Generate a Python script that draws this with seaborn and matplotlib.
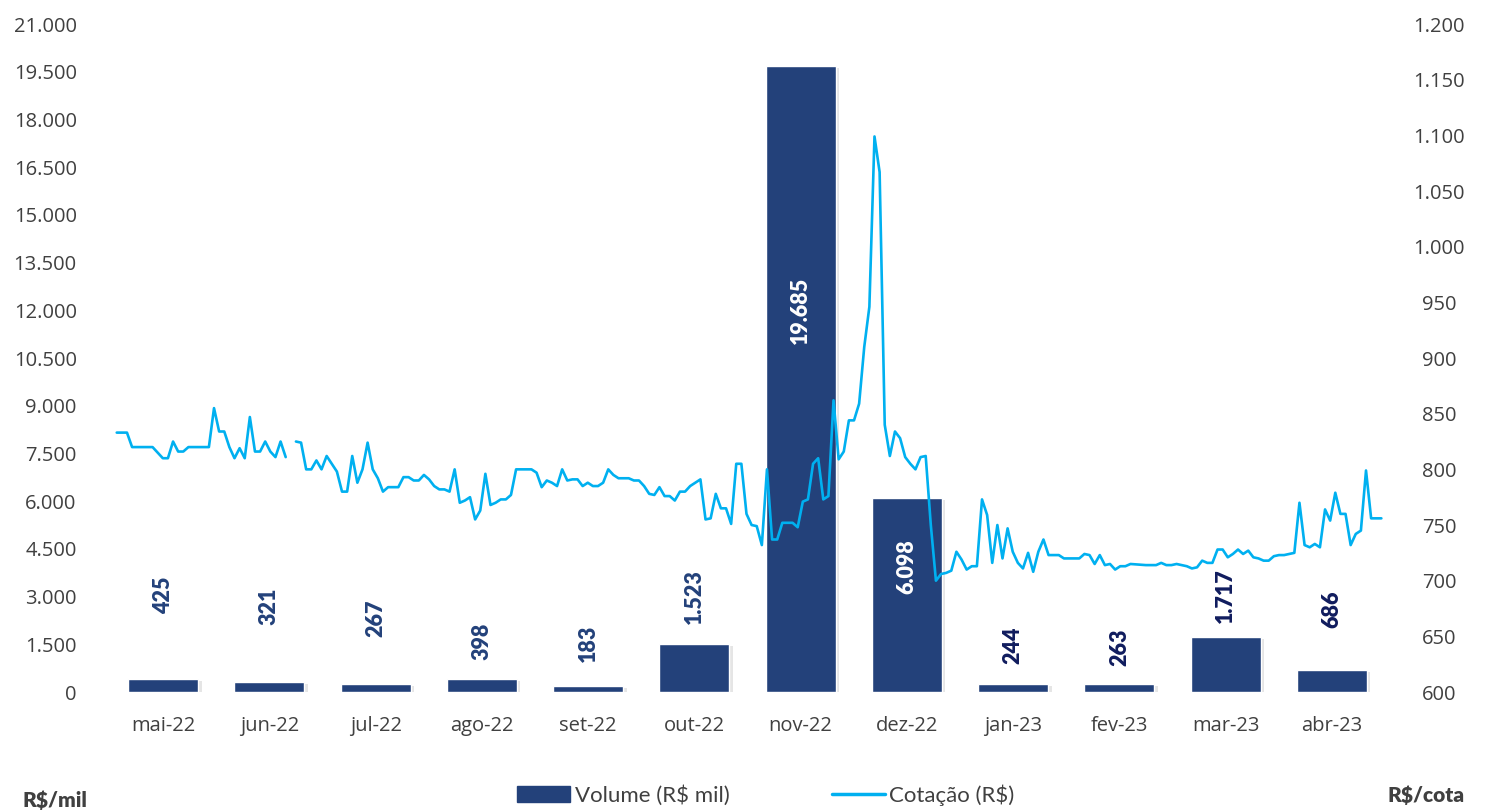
import numpy as np
import pandas as pd
import matplotlib
matplotlib.use('Agg')
import matplotlib.pyplot as plt
import matplotlib.patheffects as pe
from matplotlib.patches import Patch
from matplotlib.lines import Line2D
from matplotlib.ticker import FuncFormatter
import seaborn as sns

months = ['mai-22', 'jun-22', 'jul-22', 'ago-22', 'set-22', 'out-22',
          'nov-22', 'dez-22', 'jan-23', 'fev-23', 'mar-23', 'abr-23']
volume = [425, 321, 267, 398, 183, 1523, 19685, 6098, 244, 263, 1717, 686]

# daily quote (trading day number, R$)
days = [0, 2, 3, 7, 9, 10, 11, 12, 13, 14, 18, 19, 20, 21, 22, 23, 24, 25, 26, 27,
        28, 29, 30, 31, 32, 33, 34, 35, 36, 37, 38, 39, 40, 41, 43, 44, 45, 46, 47, 48,
        49, 50, 51, 52, 53, 55, 56, 57, 58, 59, 60, 61, 62, 63, 64, 65, 66, 67, 68, 69,
        70, 71, 72, 73, 74, 75, 76, 77, 78, 81, 82, 83, 84, 85, 86, 87, 88, 89, 90, 91,
        92, 93, 94, 95, 96, 97, 98, 100, 101, 102, 103, 104, 105, 106, 107, 108, 109, 110, 111, 112,
        113, 114, 115, 116, 117, 118, 119, 120, 121, 122, 123, 124, 125, 126, 127, 128, 129, 130, 132, 133,
        134, 135, 136, 137, 138, 139, 140, 141, 142, 143, 144, 145, 146, 147, 148, 149, 150, 151, 152, 153,
        154, 155, 156, 157, 158, 159, 160, 161, 162, 163, 164, 165, 166, 167, 168, 169, 170, 171, 172, 173,
        174, 175, 176, 177, 178, 179, 180, 181, 182, 184, 185, 188, 189, 190, 191, 192, 193, 194, 195, 196,
        197, 198, 201, 203, 204, 205, 206, 207, 208, 209, 210, 211, 212, 213, 214, 215, 216, 217, 218, 219,
        220, 221, 222, 223, 224, 225, 226, 227, 228, 229, 230, 231, 232, 233, 234, 235, 236, 237, 238, 239,
        240, 241, 242, 243, 244, 245, 247]
cotacao = [833, 833, 820, 820, 810, 810, 825, 816, 816, 820, 820, 855, 834, 834, 820, 810, 819, 810, 847, 816,
           816, 825, 816, 811, 825, 811, np.nan, 825, 824, 800, 800, 808, 800, 812, 798, 780, 780, 812, 788, 800,
           824, 800, 792, 780, 784, 784, 793, 793, 790, 790, 795, 791, 785, 782, 782, 780, 800, 770, 772, 775,
           755, 763, 796, 768, 770, 773, 773, 777, 800, 800, 797, 784, 790, 788, 785, 800, 790, 791, 791, 785,
           788, 785, 785, 788, 800, 795, 792, 792, 790, 790, 785, 778, 777, 784, 776, 776, 772, 780, 780, 785,
           788, 791, 755, 756, 778, 765, 765, 751, 805, 805, 760, 750, 749, 732, 800, 737, 737, 752, 752, 748,
           771, 773, 805, 810, 773, 776, 862, 809, 816, 844, 844, 859, 910, 946, 1099, 1067, 840, 812, 834, 828,
           811, 805, 800, 811, 812, 750, 700, 706, 707, 709, 726, 719, 710, 713, 713, 773, 759, 716, 750, 720,
           747, 726, 716, 711, 725, 708, 726, 737, 723, 723, 720, 720, 724, 723, 715, 723, 714, 715, 710, 713,
           713, 715, 714, 714, 716, 714, 714, 715, 714, 713, 711, 712, 718, 716, 716, 728, 728, 721, 724, 728,
           724, 727, 721, 720, 718, 718, 722, 723, 723, 724, 725, 770, 732, 730, 733, 730, 764, 754, 779, 760,
           760, 732, 742, 745, 799, 756, 756]

bar_color = '#23417A'
line_color = '#00B0F0'
grey = '#404040'

# where each bar label sits (centre, in R$ mil) and its colour
label_y = [3049, 2704, 2326, 1603, 1540, 2987, 12009, 3930, 1478, 1415, 3018, 2609]
label_col = ['#23417A'] * 6 + ['white', 'white'] + ['#101C5E'] * 4

sns.set_style('white')
plt.rcParams['font.family'] = ['Open Sans', 'DejaVu Sans']

fig = plt.figure(figsize=(14.87, 8.11), dpi=100)
ax = fig.add_axes([0.074, 0.1467, 0.8574, 0.8237])

df_bar = pd.DataFrame({'mes': months, 'volume': volume})
sns.barplot(data=df_bar, x='mes', y='volume', color=bar_color, width=0.66,
            saturation=1, ax=ax, zorder=2)
for p in ax.patches:
    p.set_path_effects([pe.SimplePatchShadow(offset=(2.5, -1.5), shadow_rgbFace='#999999', alpha=0.25),
                        pe.Normal()])

for i, v in enumerate(volume):
    ax.text(i, label_y[i], f'{v:,}'.replace(',', '.'), rotation=90, ha='center', va='center',
            fontsize=15.5, fontweight='heavy', color=label_col[i], family='Lato', zorder=3)

ax.set_ylim(0, 21000)
ax.set_xlim(-0.5, 11.5)
ax.set_yticks(np.arange(0, 21001, 1500))
ax.yaxis.set_major_formatter(FuncFormatter(lambda v, p: f'{int(v):,}'.replace(',', '.')))
ax.tick_params(axis='y', length=0, pad=24, labelsize=14.5, labelcolor=grey)
ax.tick_params(axis='x', length=0, pad=17, labelsize=14.5, labelcolor=grey)
ax.set_xlabel('')
ax.set_ylabel('')
sns.despine(ax=ax, left=True, bottom=True)

ax2 = ax.twinx()
seg = [0 if d <= 33 else 1 for d in days]
x_line = -0.437 + np.array(days) * 0.04819
df_line = pd.DataFrame({'x': x_line, 'cotacao': cotacao, 'seg': seg}).dropna()
sns.lineplot(data=df_line, x='x', y='cotacao', units='seg', estimator=None,
             color=line_color, linewidth=1.9, ax=ax2)
ax2.set_ylim(600, 1200)
ax2.set_xlim(-0.5, 11.5)
ax2.set_yticks(np.arange(600, 1201, 50))
ax2.yaxis.set_major_formatter(FuncFormatter(lambda v, p: f'{int(v):,}'.replace(',', '.')))
ax2.tick_params(axis='y', length=0, pad=39, labelsize=14.5, labelcolor=grey)
for t in ax2.get_yticklabels():
    t.set_horizontalalignment('center')
ax2.set_ylabel('')
ax2.set_xlabel('')
for s in ax2.spines.values():
    s.set_visible(False)

handles = [Patch(facecolor=bar_color, edgecolor=bar_color),
           Line2D([0], [0], color=line_color, linewidth=2.5)]
fig.legend(handles, ['Volume (R$ mil)', 'Cotação (R$)'], loc='center', bbox_to_anchor=(0.515, 0.02),
           ncol=2, frameon=False, prop={'family': 'Lato', 'size': 16}, handlelength=2.4,
           handleheight=0.7, handletextpad=0.2, columnspacing=4.6, labelcolor=grey)

fig.text(0.015, 0.013, 'R$/mil', fontsize=15, fontweight='heavy', color=grey, family='Lato',
         ha='left', va='center')
fig.text(0.985, 0.02, 'R$/cota', fontsize=15, fontweight='heavy', color=grey, family='Lato',
         ha='right', va='center')

fig.savefig('out.png', dpi=100)
